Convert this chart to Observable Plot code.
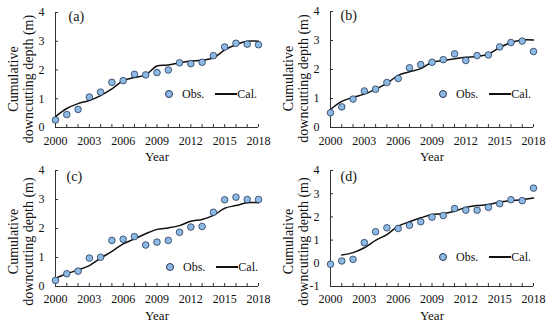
<!DOCTYPE html>
<html>
<head>
<meta charset="utf-8">
<script src="https://cdn.jsdelivr.net/npm/d3@7"></script>
<script src="https://cdn.jsdelivr.net/npm/@observablehq/plot@0.6"></script>
<style>
  body { margin: 0; background: #fff; }
  #wrap { position: relative; width: 550px; height: 326px; font-family: "Liberation Serif", "Times New Roman", serif; }
  .panel { position: absolute; width: 275px; height: 163px; }
  .legend { position: absolute; display: flex; align-items: center; font-size: 12px; color: #111; white-space: nowrap; }
  .legend .dot { width: 6px; height: 6px; border-radius: 50%; background: #8db9e3; border: 0.8px solid #23395b; }
  .legend .ln { width: 22px; height: 1.5px; background: #111; }
</style>
</head>
<body>
<div id="wrap"></div>
<script>
const years = [2000,2001,2002,2003,2004,2005,2006,2007,2008,2009,2010,2011,2012,2013,2014,2015,2016,2017,2018];
const xTickLabels = [2000,2003,2006,2009,2012,2015,2018];
const yTicksABC = [0,1,2,3,4];
const yTicksD = [-1,0,1,2,3,4];
const panelLabels = ["(a)","(b)","(c)","(d)"];
const yLabel = "Cumulative\ndowncutting depth (m)";
const xLabel = "Year";
const legendObs = "Obs.";
const legendCal = "Cal.";

const obsA = [0.26,0.45,0.63,1.06,1.23,1.57,1.63,1.85,1.83,1.91,2.00,2.25,2.22,2.27,2.50,2.80,2.93,2.90,2.88];
const calA = [0.38,0.66,0.83,0.94,1.11,1.34,1.63,1.74,1.83,2.14,2.17,2.25,2.31,2.34,2.42,2.70,2.88,3.00,3.00];
const obsB = [0.51,0.71,0.98,1.26,1.32,1.55,1.69,2.06,2.17,2.25,2.34,2.54,2.31,2.48,2.50,2.78,2.93,2.98,2.62];
const calB = [0.62,0.90,1.04,1.15,1.32,1.52,1.80,1.92,2.03,2.25,2.31,2.37,2.42,2.45,2.53,2.76,2.93,3.02,3.02];
const obsC = [0.21,0.44,0.53,0.98,1.01,1.59,1.63,1.72,1.43,1.53,1.59,1.87,2.05,2.07,2.56,2.99,3.08,3.00,3.00];
const calC = [0.29,0.44,0.57,0.72,0.98,1.21,1.47,1.64,1.82,1.97,2.02,2.10,2.25,2.31,2.45,2.70,2.79,2.89,2.89];
const obsD = [-0.04,0.10,0.17,0.89,1.36,1.53,1.50,1.64,1.79,1.99,2.06,2.36,2.29,2.29,2.41,2.57,2.74,2.70,3.24];
const calD = [null,0.36,0.46,0.67,0.99,1.24,1.60,1.79,1.96,2.10,2.14,2.24,2.41,2.49,2.53,2.64,2.70,2.74,2.81];

const panels = [
  {obs: obsA, cal: calA, yTicks: yTicksABC, left: 0,   top: 0,   mt: 12, mb: 36, labDx: 13, labDy: 4, legX: 165, legY: 94, ylDy: 9,  tickPad: 9, yearDy: 29},
  {obs: obsB, cal: calB, yTicks: yTicksABC, left: 275, top: 0,   mt: 11, mb: 36, labDx: 10, labDy: 4, legX: 164, legY: 94, ylDy: 9,  tickPad: 9, yearDy: 29},
  {obs: obsC, cal: calC, yTicks: yTicksABC, left: 0,   top: 163, mt: 7,  mb: 40, labDx: 11, labDy: 6, legX: 166, legY: 104, ylDy: 13, tickPad: 8, yearDy: 29},
  {obs: obsD, cal: calD, yTicks: yTicksD,   left: 275, top: 163, mt: 7,  mb: 40, labDx: 10, labDy: 6, legX: 164, legY: 94, ylDy: 13, tickPad: 8, yearDy: 29}
];

const serif = "'Liberation Serif', 'Times New Roman', serif";
const wrap = document.getElementById("wrap");
panels.forEach((p, i) => {
  const obsData = years.map((y, k) => ({year: y, v: p.obs[k]}));
  const calData = years.map((y, k) => ({year: y, v: p.cal[k]})).filter(d => d.v != null);
  const yMin = p.yTicks[0], yMax = p.yTicks[p.yTicks.length - 1];
  const chart = Plot.plot({
    width: 275,
    height: 163,
    marginLeft: 55,
    marginRight: 17,
    marginTop: p.mt,
    marginBottom: p.mb,
    style: {fontSize: "12px", color: "#111", background: "transparent", overflow: "visible"},
    x: {domain: [years[0], years[years.length - 1]]},
    y: {domain: [yMin, yMax]},
    marks: [
      Plot.ruleX([years[0]], {stroke: "#333", strokeWidth: 1}),
      Plot.ruleY([yMin], {stroke: "#333", strokeWidth: 1}),
      Plot.axisX({ticks: years, tickSize: 3, dy: -3, tickFormat: () => "", label: null, stroke: "#333"}),
      Plot.axisX({ticks: xTickLabels, tickSize: 0, tickPadding: p.tickPad, tickFormat: d => String(d), label: null, fontSize: 12, fill: "#111"}),
      Plot.axisY({ticks: p.yTicks, tickSize: 3, dx: 3, tickFormat: () => "", label: null, stroke: "#333"}),
      Plot.axisY({ticks: p.yTicks, tickSize: 0, tickPadding: 11, tickFormat: d => String(d), label: null, fontSize: 12, fill: "#111"}),
      Plot.line(calData, {x: "year", y: "v", stroke: "#111", strokeWidth: 1.5, curve: "catmull-rom"}),
      Plot.dot(obsData, {x: "year", y: "v", r: 3.3, fill: "#8db9e3", stroke: "#23395b", strokeWidth: 0.8}),
      Plot.text([panelLabels[i]], {frameAnchor: "top-left", dx: p.labDx, dy: p.labDy, textAnchor: "start", lineAnchor: "middle", fontSize: 14, fill: "#111"}),
      Plot.text([xLabel], {frameAnchor: "bottom", dy: p.yearDy, textAnchor: "middle", lineAnchor: "middle", fontSize: 13, fill: "#111"}),
      Plot.text([yLabel], {frameAnchor: "left", dx: -35, dy: p.ylDy, rotate: -90, textAnchor: "middle", lineAnchor: "middle", lineHeight: 1.07, fontSize: 14, fill: "#111"})
    ]
  });
  d3.select(chart).attr("font-family", serif).style("font-family", serif);
  d3.select(chart).selectAll("g, text, tspan").attr("font-family", null).style("font-family", serif).style("font-variant", "normal");
  const div = document.createElement("div");
  div.className = "panel";
  div.style.left = p.left + "px";
  div.style.top = p.top + "px";
  div.appendChild(chart);
  const leg = document.createElement("div");
  leg.className = "legend";
  leg.style.left = p.legX + "px";
  leg.style.top = (p.legY - 8) + "px";
  leg.style.height = "16px";
  leg.innerHTML = `<span class="dot"></span><span style="margin-left:9px">${legendObs}</span><span class="ln" style="margin-left:11px"></span><span>${legendCal}</span>`;
  div.appendChild(leg);
  wrap.appendChild(div);
});
</script>
</body>
</html>
